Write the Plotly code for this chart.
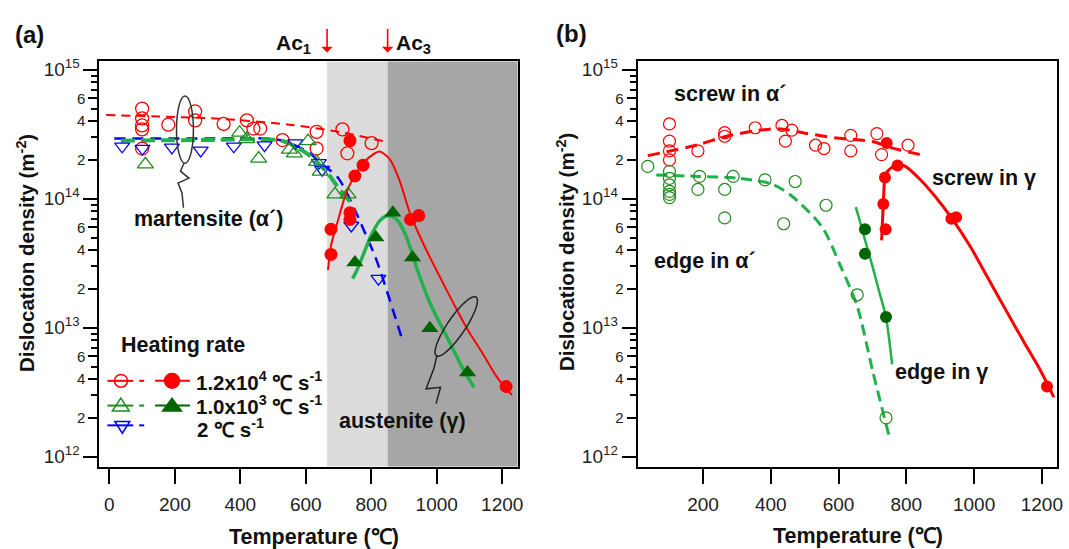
import numpy as np
import plotly.graph_objects as go

W, H = 1069, 549
FONT = "Liberation Sans, Arial, Helvetica, sans-serif"

# ======================= DATA =======================
AC1 = 665   # Ac1 temperature (°C)
AC3 = 850   # Ac3 temperature (°C)

# ---- panel (a) ----
# 1.2x10^4 °C/s : martensite (open circles) and its fit
a_r_open_T = [100, 100, 100, 100, 100, 180, 262, 262, 349, 420, 440, 461, 529, 633, 633, 712, 727, 801]
a_r_open_rho = [5.0e14, 4.2e14, 3.7e14, 3.45e14, 2.45e14, 3.75e14, 4.75e14, 4.05e14, 3.8e14, 4.05e14,
                3.5e14, 3.5e14, 2.85e14, 3.3e14, 2.45e14, 3.45e14, 2.25e14, 2.7e14]
a_r_fit_T = [-10, 150, 350, 550, 700, 835]
a_r_fit_rho = [4.45e14, 4.35e14, 4.15e14, 3.75e14, 3.3e14, 2.8e14]

# 2 °C/s : martensite (open down triangles) and its fit
a_b_open_T = [39, 101, 191, 279, 380, 474, 568, 640, 650, 739, 822]
a_b_open_rho = [2.55e14, 2.45e14, 2.5e14, 2.37e14, 2.55e14, 2.6e14, 2.7e14, 1.9e14, 1.68e14, 6.2e13, 2.4e13]
a_b_fit_T = [15, 300, 520, 607, 650, 699, 749, 780, 815, 892]
a_b_fit_rho = [2.93e14, 2.93e14, 2.85e14, 2.3e14, 1.85e14, 1.45e14, 8.3e13, 5.5e13, 3.4e13, 8.5e12]

# 1.0x10^3 °C/s : martensite (open triangles) and its fit
a_g_open_T = [110, 398, 419, 456, 550, 565, 607, 633, 644, 689, 729]
a_g_open_rho = [1.85e14, 3.25e14, 2.9e14, 2.05e14, 2.4e14, 2.25e14, 2.8e14, 1.93e14, 1.62e14, 1.08e14, 1.08e14]
a_g_fit_T = [35, 300, 530, 608, 650, 678, 699, 740]
a_g_fit_rho = [2.82e14, 2.85e14, 2.8e14, 2.2e14, 1.75e14, 1.45e14, 1.22e14, 9.2e13]

# 1.2x10^4 °C/s : austenite (filled circles) and its fit
a_r_fill_T = [677, 677, 735, 735, 735, 750, 775, 920, 945, 1212]
a_r_fill_rho = [3.7e13, 5.8e13, 6.9e13, 7.8e13, 2.82e14, 1.5e14, 1.82e14, 6.9e13, 7.4e13, 3.5e12]
a_r_curve_T = [668, 677, 699, 723, 750, 780, 805, 826, 857, 887, 920, 957, 1002, 1048, 1094, 1139, 1185, 1230]
a_r_curve_rho = [2.8e13, 4.3e13, 6.9e13, 1.1e14, 1.52e14, 1.95e14, 2.2e14, 2.32e14, 2.02e14, 1.37e14,
                 7.5e13, 4.6e13, 2.7e13, 1.6e13, 9.7e12, 6.4e12, 4.1e12, 3.0e12]

# 1.0x10^3 °C/s : austenite (filled triangles) and its fit
a_g_fill_T = [750, 814, 866, 926, 979, 1094]
a_g_fill_rho = [3.2e13, 5.0e13, 7.8e13, 3.5e13, 9.9e12, 4.5e12]
a_g_curve_T = [743, 755, 775, 800, 825, 851, 875, 900, 926, 942, 982, 1033, 1084, 1114]
a_g_curve_rho = [2.4e13, 2.75e13, 3.65e13, 5.2e13, 6.7e13, 7.4e13, 7.0e13, 5.6e13, 3.7e13, 2.75e13,
                 1.5e13, 8.3e12, 4.6e12, 3.45e12]

# ---- panel (b) ----
# screw in alpha'
b_r_open_T = [101, 101, 101, 101, 185, 264, 264, 354, 433, 443, 462, 532, 557, 636, 636, 713, 727, 805]
b_r_open_rho = [3.8e14, 2.8e14, 2.35e14, 2.0e14, 2.35e14, 3.25e14, 3.05e14, 3.55e14, 3.7e14, 2.8e14,
                3.4e14, 2.6e14, 2.45e14, 3.1e14, 2.35e14, 3.2e14, 2.2e14, 2.6e14]
b_r_fit_T = [37, 185, 264, 354, 423, 502, 601, 700, 760, 854]
b_r_fit_rho = [2.16e14, 2.62e14, 3.03e14, 3.36e14, 3.49e14, 3.22e14, 2.94e14, 2.78e14, 2.47e14, 2.16e14]

# screw in gamma
b_r_fill_T = [742, 737, 774, 732, 739, 933, 947, 1215]
b_r_fill_rho = [2.7e14, 1.46e14, 1.81e14, 9.1e13, 5.8e13, 7.0e13, 7.2e13, 3.5e12]
b_r_curve_T = [727, 732, 737, 744, 757, 774, 796, 835, 884, 935, 990, 1040, 1100, 1150, 1195, 1235]
b_r_curve_rho = [4.75e13, 9.1e13, 1.46e14, 1.62e14, 1.75e14, 1.84e14, 1.79e14, 1.46e14, 1.05e14, 7.0e13,
                 4.2e13, 2.45e13, 1.28e13, 7.5e12, 4.7e12, 2.9e12]

# edge in alpha'
b_g_open_T = [37, 101, 101, 101, 101, 101, 101, 190, 185, 289, 264, 264, 383, 472, 438, 563, 655, 740]
b_g_open_rho = [1.78e14, 1.63e14, 1.44e14, 1.28e14, 1.14e14, 1.08e14, 1.02e14, 1.49e14, 1.18e14, 1.49e14,
                1.18e14, 7.1e13, 1.4e14, 1.36e14, 6.4e13, 8.9e13, 1.8e13, 2.0e12]
b_g_fit_T = [62, 185, 304, 403, 462, 552, 606, 655, 700, 749]
b_g_fit_rho = [1.53e14, 1.49e14, 1.44e14, 1.3e14, 1.05e14, 6.0e13, 3.0e13, 1.47e13, 4.7e12, 1.45e12]

# edge in gamma
b_g_fill_T = [678, 678, 740]
b_g_fill_rho = [5.8e13, 3.75e13, 1.21e13]
b_g_curve_T = [651, 665, 680, 700, 720, 740, 758]
b_g_curve_rho = [8.6e13, 6.4e13, 4.6e13, 3.0e13, 1.9e13, 1.2e13, 5.2e12]

# ---- axes ticks ----
X_TICKS_A = [0, 200, 400, 600, 800, 1000, 1200]
X_TICKS_B = [200, 400, 600, 800, 1000, 1200]
DEC_VALS = [1e12, 1e13, 1e14, 1e15]
DEC_TEXT = ["10<sup>12</sup>", "10<sup>13</sup>", "10<sup>14</sup>", "10<sup>15</sup>"]
MID_VALS = [m * 10.0 ** e for e in (12, 13, 14) for m in (2, 4, 6)]
MID_TEXT = [str(m) for e in (12, 13, 14) for m in (2, 4, 6)]
MINOR_VALS = [m * 10.0 ** e for e in (12, 13, 14) for m in (3, 5, 7, 8, 9)]

# ======================= STYLE =======================
RED = "#ff0000"
BLUE = "#0000ff"
GLINE = "#22b14c"
DKGREEN = "#006400"
GOPEN = "#1f8a1f"

XR_A = [-30.4, 1247.6]
XR_B = [7.0, 1244.7]
YR = [11.923, 15.065]
YDOM = [1 - 466.7 / H, 1 - 57 / H]

fig = go.Figure()


def add(x, y, xa, ya, **kw):
    fig.add_trace(go.Scatter(x=x, y=y, xaxis=xa, yaxis=ya, showlegend=False,
                             hoverinfo="skip", **kw))


def line(color, width, dash="solid"):
    return dict(color=color, width=width, dash=dash, shape="spline", smoothing=0.8)


# ---- panel (a) traces ----
add(a_r_fit_T, a_r_fit_rho, "x", "y", mode="lines", line=line(RED, 2, "9px,6px"))
add(a_b_fit_T, a_b_fit_rho, "x", "y", mode="lines", line=line(BLUE, 2.5, "11px,7px"))
add(a_g_fit_T, a_g_fit_rho, "x", "y", mode="lines", line=line(GLINE, 4, "14px,6px"))
add(a_r_curve_T, a_r_curve_rho, "x", "y", mode="lines", line=line(RED, 2))
add(a_g_curve_T, a_g_curve_rho, "x", "y", mode="lines", line=line(GLINE, 3.5))
add(a_r_open_T, a_r_open_rho, "x", "y", mode="markers",
    marker=dict(symbol="circle-open", size=13, color=RED, line=dict(width=1.3, color=RED)))
add(a_b_open_T, a_b_open_rho, "x", "y", mode="markers",
    marker=dict(symbol="triangle-down-open", size=13, color=BLUE, line=dict(width=1.3, color=BLUE)))
add(a_g_open_T, a_g_open_rho, "x", "y", mode="markers",
    marker=dict(symbol="triangle-up-open", size=14, color=GOPEN, line=dict(width=1.3, color=GOPEN)))
add(a_r_fill_T, a_r_fill_rho, "x", "y", mode="markers",
    marker=dict(symbol="circle", size=13, color=RED, line=dict(width=0)))
add(a_g_fill_T, a_g_fill_rho, "x", "y", mode="markers",
    marker=dict(symbol="triangle-up", size=15, color=DKGREEN, line=dict(width=0)))

# ---- panel (b) traces ----
add(b_r_fit_T, b_r_fit_rho, "x2", "y2", mode="lines", line=line(RED, 3, "12px,7px"))
add(b_g_fit_T, b_g_fit_rho, "x2", "y2", mode="lines", line=line(GLINE, 3, "11px,6px"))
add(b_r_curve_T, b_r_curve_rho, "x2", "y2", mode="lines", line=line(RED, 3))
add(b_g_curve_T, b_g_curve_rho, "x2", "y2", mode="lines", line=line(GLINE, 2.5))
add(b_r_open_T, b_r_open_rho, "x2", "y2", mode="markers",
    marker=dict(symbol="circle-open", size=12, color=RED, line=dict(width=1.2, color=RED)))
add(b_g_open_T, b_g_open_rho, "x2", "y2", mode="markers",
    marker=dict(symbol="circle-open", size=12, color=GOPEN, line=dict(width=1.2, color=GOPEN)))
add(b_r_fill_T, b_r_fill_rho, "x2", "y2", mode="markers",
    marker=dict(symbol="circle", size=12, color=RED, line=dict(width=0)))
add(b_g_fill_T, b_g_fill_rho, "x2", "y2", mode="markers",
    marker=dict(symbol="circle", size=12, color=DKGREEN, line=dict(width=0)))

# empty traces so that the decade-tick overlay axes are created
add([None], [None], "x", "y3", mode="markers")
add([None], [None], "x2", "y4", mode="markers")

# ======================= AXES =======================
tickfont = dict(size=19, family=FONT, color="#222")


def xax(domain, rng, anchor, vals):
    return dict(domain=domain, range=rng, anchor=anchor, tickmode="array", tickvals=vals,
                ticks="outside", ticklen=15, tickwidth=2, tickcolor="black", tickfont=tickfont,
                showline=True, linewidth=2, linecolor="black", mirror=True,
                showgrid=False, zeroline=False, ticklabelstandoff=5)


def yax(anchor):
    return dict(type="log", range=YR, domain=YDOM, anchor=anchor, tickmode="array",
                tickvals=MID_VALS, ticktext=MID_TEXT, ticks="outside", ticklen=9, tickwidth=1.5,
                tickcolor="black", tickfont=dict(size=15, family=FONT, color="#222"),
                showline=True, linewidth=2, linecolor="black", mirror=True,
                showgrid=False, zeroline=False,
                minor=dict(tickmode="array", tickvals=MINOR_VALS, ticks="outside", ticklen=6,
                           tickwidth=1.5, tickcolor="black", showgrid=False))


def ydec(over, anchor):
    return dict(type="log", range=YR, domain=YDOM, overlaying=over, anchor=anchor, side="left",
                tickmode="array", tickvals=DEC_VALS, ticktext=DEC_TEXT, ticks="outside",
                ticklen=15, tickwidth=2, tickcolor="black", tickfont=tickfont,
                showline=False, showgrid=False, zeroline=False)


fig.update_layout(
    xaxis=xax([100 / W, 520.7 / W], XR_A, "y", X_TICKS_A),
    yaxis=yax("x"),
    yaxis3=ydec("y", "x"),
    xaxis2=xax([641.2 / W, 1063 / W], XR_B, "y2", X_TICKS_B),
    yaxis2=yax("x2"),
    yaxis4=ydec("y2", "x2"),
)

# ======================= SHAPES =======================
def X(px):
    return px / W


def Y(py):
    return 1 - py / H


def pathp(pts, closed=False):
    s = "M " + " L ".join(f"{X(x):.5f},{Y(y):.5f}" for x, y in pts)
    return s + (" Z" if closed else "")


shapes = [
    dict(type="rect", xref="x", yref="y domain", x0=AC1, x1=AC3, y0=0, y1=1,
         fillcolor="#dcdcdc", line=dict(width=0), layer="below"),
    dict(type="rect", xref="x", yref="y domain", x0=AC3, x1=XR_A[1], y0=0, y1=1,
         fillcolor="#a6a6a6", line=dict(width=0), layer="below"),
]

# martensite ellipse + squiggle
shapes.append(dict(type="circle", xref="paper", yref="paper", x0=X(177.5), x1=X(194.5),
                   y0=Y(160), y1=Y(92), line=dict(color="#333", width=1.5)))
shapes.append(dict(type="path", xref="paper", yref="paper",
                   path=pathp([(185, 160), (181.5, 168), (190, 175), (179, 180), (183, 190), (184.5, 205)]),
                   line=dict(color="#333", width=1.5)))

# austenite tilted ellipse + squiggle
cx, cy, ea, eb = 458.8, 325.0, 35.8, 9.0
th = np.arctan2(-58.0, 39.0)
tt = np.linspace(0, 2 * np.pi, 64)
ex = cx + ea * np.cos(tt) * np.cos(th) - eb * np.sin(tt) * np.sin(th)
ey = cy + ea * np.cos(tt) * np.sin(th) + eb * np.sin(tt) * np.cos(th)
shapes.append(dict(type="path", xref="paper", yref="paper",
                   path=pathp(list(zip(ex, ey)), closed=True), line=dict(color="#222", width=1.5)))
shapes.append(dict(type="path", xref="paper", yref="paper",
                   path=pathp([(439.5, 354), (436.5, 367), (428.5, 388), (443, 386.5), (438.5, 403)]),
                   line=dict(color="#222", width=1.5)))


# legend glyphs
def lseg(x0, x1, y, color, w=2):
    shapes.append(dict(type="line", xref="paper", yref="paper", x0=X(x0), x1=X(x1), y0=Y(y), y1=Y(y),
                       line=dict(color=color, width=w)))


def lcirc(cx, cy, r, color, filled):
    shapes.append(dict(type="circle", xref="paper", yref="paper", x0=X(cx - r), x1=X(cx + r),
                       y0=Y(cy + r), y1=Y(cy - r), line=dict(color=color, width=1.5),
                       fillcolor=color if filled else "rgba(0,0,0,0)"))


def ltri(cx, cy, w, h, color, filled, up=True):
    if up:
        pts = [(cx - w / 2, cy + h / 2), (cx + w / 2, cy + h / 2), (cx, cy - h / 2)]
    else:
        pts = [(cx - w / 2, cy - h / 2), (cx + w / 2, cy - h / 2), (cx, cy + h / 2)]
    shapes.append(dict(type="path", xref="paper", yref="paper", path=pathp(pts, closed=True),
                       line=dict(color=color, width=1.5),
                       fillcolor=color if filled else "rgba(0,0,0,0)"))


r1, r2, r3 = 380, 404, 428
lseg(108, 134, r1, RED); lseg(140, 145, r1, RED); lseg(156, 191, r1, RED)
lcirc(121.7, r1, 6.5, RED, False); lcirc(173, r1, 7.5, RED, True)
lseg(108, 134, r2 + 1, GOPEN); lseg(140, 145, r2 + 1, GOPEN); lseg(156, 191, r2 + 1, DKGREEN)
ltri(121.5, r2, 17, 13, GOPEN, False); ltri(173, r2, 19, 13, DKGREEN, True)
lseg(108, 134, r3 - 3, BLUE); lseg(140, 145, r3 - 3, BLUE)
ltri(123, r3 - 1, 15, 12, BLUE, False, up=False)

fig.update_layout(shapes=shapes)

# ======================= ANNOTATIONS =======================
ann = []


def txt(x, y, text, size=21.5, bold=True, angle=0, xanchor="center", color="#111"):
    ann.append(dict(x=X(x), y=Y(y), xref="paper", yref="paper", showarrow=False,
                    text=f"<b>{text}</b>" if bold else text, textangle=angle,
                    xanchor=xanchor, yanchor="middle",
                    font=dict(size=size, family=FONT, color=color)))


txt(30, 30, "(a)", size=24)
txt(574.6, 29, "(b)", size=24)
txt(26, 251, "Dislocation density (m<sup>-2</sup>)", size=20.5, angle=-90)
txt(569, 250, "Dislocation density (m<sup>-2</sup>)", size=20.5, angle=-90)
txt(316, 538, "Temperature (℃)")
txt(863, 537, "Temperature (℃)")
txt(295, 39, "Ac<sub>1</sub>", size=21)
txt(415.5, 39, "Ac<sub>3</sub>", size=21)
txt(210, 216.5, "martensite (α´)")
txt(404.5, 421, "austenite (γ)")
txt(184, 344, "Heating rate")
txt(195, r1, "1.2x10<sup>4</sup> ℃ s<sup>-1</sup>", size=20.5, xanchor="left")
txt(195, r2, "1.0x10<sup>3</sup> ℃ s<sup>-1</sup>", size=20.5, xanchor="left")
txt(196, r3, "2 ℃ s<sup>-1</sup>", size=20.5, xanchor="left")
txt(734, 90, "screw in α´")
txt(990, 175, "screw in γ")
txt(709, 259, "edge in α´")
txt(946.5, 371, "edge in γ")

for t in (AC1, AC3):
    ann.append(dict(x=t, y=Y(48), xref="x", yref="paper", ax=0, ay=-25, text="",
                    showarrow=True, arrowhead=1, arrowsize=1.2, arrowwidth=1.6, arrowcolor=RED))

fig.update_layout(
    annotations=ann,
    width=W, height=H,
    margin=dict(l=0, r=0, t=0, b=0),
    paper_bgcolor="white",
    plot_bgcolor="rgba(0,0,0,0)",
    font=dict(family=FONT),
    showlegend=False,
)

fig.write_html("out.html")
